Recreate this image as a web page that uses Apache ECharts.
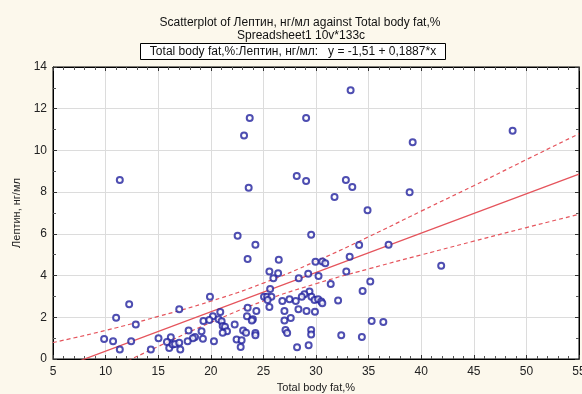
<!DOCTYPE html>
<html>
<head>
<meta charset="utf-8">
<script src="https://cdn.jsdelivr.net/npm/echarts@6/dist/echarts.min.js"></script>
<style>
html,body{margin:0;padding:0;background:#fcf8ec;}
#chart{width:582px;height:394px;}
</style>
</head>
<body>
<div id="chart"></div>
<script>
// Data
var fatX = [
  11.35, 23.70, 29.06, 23.16, 23.60, 28.17, 29.06, 32.84, 33.45, 31.76,
  34.90, 22.55, 29.54, 33.29, 48.69, 38.90, 39.19, 24.24, 34.10, 36.90,
  23.50, 26.46, 25.57, 26.40, 25.95, 25.64, 33.20, 29.95, 30.60, 30.88,
  29.26, 28.36, 30.24, 32.88, 31.40, 35.16, 34.43, 29.38, 28.90, 41.90,
  19.92, 12.24, 25.06, 25.35, 25.76, 28.65, 29.57, 25.40, 25.57, 26.80,
  27.48, 28.08, 28.33, 27.00, 29.86, 30.20, 30.50, 30.60, 32.10, 29.10,
  29.90, 17.00, 20.90, 20.20, 23.50, 23.44, 24.33, 11.00, 27.60, 27.00,
  19.30, 19.86, 20.74, 21.03, 22.27, 21.13, 21.35, 24.00, 23.90, 12.87,
  35.29, 36.40, 21.54, 21.13, 17.89, 19.12, 23.07, 23.35, 27.10, 27.26,
  24.24, 24.24, 29.54, 29.54, 32.40, 34.36, 18.50, 18.30, 15.03, 16.20,
  19.25, 20.30, 17.80, 22.45, 22.93, 22.84, 28.20, 29.30, 9.86, 10.71,
  11.35, 12.43, 14.30, 15.83, 16.05, 16.37, 16.60, 17.00, 17.10
];
var leptinY = [
  8.58, 11.55, 11.55, 10.71, 8.21, 8.77, 8.53, 8.58, 8.25, 7.77,
  7.13, 5.91, 5.96, 12.88, 10.94, 8.00, 10.39, 5.48, 5.46, 5.48,
  4.79, 4.76, 4.19, 4.11, 3.87, 3.36, 4.90, 4.66, 4.68, 4.59,
  4.09, 3.87, 3.98, 4.19, 3.60, 3.71, 3.26, 3.24, 3.10, 4.47,
  2.99, 2.62, 2.99, 2.99, 2.99, 2.99, 2.99, 2.83, 2.49, 2.78,
  2.86, 2.78, 2.38, 2.30, 2.83, 2.86, 2.76, 2.67, 2.81, 2.30,
  2.27, 2.38, 2.25, 2.05, 2.46, 2.05, 2.30, 1.98, 1.97, 1.84,
  1.82, 1.87, 1.90, 1.81, 1.65, 1.58, 1.55, 1.90, 1.84, 1.66,
  1.82, 1.77, 1.33, 1.26, 1.37, 1.33, 1.37, 1.26, 1.39, 1.25,
  1.25, 1.14, 1.39, 1.17, 1.14, 1.05, 1.05, 1.00, 1.00, 1.04,
  0.97, 0.85, 0.85, 0.93, 0.90, 0.58, 0.56, 0.66, 0.96, 0.85,
  0.45, 0.85, 0.45, 0.81, 0.53, 0.69, 0.72, 0.78, 0.45
];
// Regression coefficients (from the header text)
var intercept = -1.51;
var slope = 0.1887;
// 95% confidence band
var bandX     = [5, 10, 15, 20, 25, 30, 35, 40, 45, 50, 55];
var bandUpper = [0.79, 1.37, 2.04, 2.77, 3.64, 4.69, 5.86, 7.09, 8.31, 9.56, 10.80];
var bandLower = [-1.92, -0.61, 0.60, 1.75, 2.78, 3.61, 4.32, 4.99, 5.65, 6.30, 6.94];
// Axis settings
var xTicks = {min: 5, max: 55, step: 5};
var yTicks = {min: 0, max: 14, step: 2};
var titleLines = ['Scatterplot of Лептин, нг/мл against Total body fat,%', 'Spreadsheet1 10v*133c'];
var eqText = 'Total body fat,%:Лептин, нг/мл:   y = -1,51 + 0,1887*x';
var xName = 'Total body fat,%';
var yName = 'Лептин, нг/мл';

var FONT = '"Liberation Sans", Arial, sans-serif';
var pts = fatX.map(function(x, i){ return [x, leptinY[i]]; });
var regLine = [xTicks.min, xTicks.max].map(function(x){ return [x, intercept + slope * x]; });
var up = bandX.map(function(x, i){ return [x, bandUpper[i]]; });
var lo = bandX.map(function(x, i){ return [x, bandLower[i]]; });

var RED = '#e5545c';
var BLUE = '#22229e';

function axisCommon(extra){
  var a = {
    axisLine: {show: true, onZero: false, lineStyle: {color: '#000', width: 1}},
    axisTick: {show: true, inside: true, length: 4, lineStyle: {color: '#333'}},
    minorTick: {show: true, length: 3, lineStyle: {color: '#555'}},
    splitLine: {show: false},
    minorSplitLine: {show: false}
  };
  for (var k in extra) a[k] = extra[k];
  return a;
}

var chart = echarts.init(document.getElementById('chart'));
chart.setOption({
  backgroundColor: '#fcf8ec',
  animation: false,
  grid: {left: 53, right: 3, top: 67, bottom: 35, show: true, backgroundColor: '#ffffff',
         borderColor: '#000', borderWidth: 1, containLabel: false, outerBoundsMode: 'none'},
  graphic: [
    {type: 'text', x: 300, y: 22.5, style: {text: titleLines[0], font: '12px ' + FONT, fill: '#111', textAlign: 'center', textVerticalAlign: 'middle'}},
    {type: 'text', x: 301, y: 36, style: {text: titleLines[1], font: '12px ' + FONT, fill: '#111', textAlign: 'center', textVerticalAlign: 'middle'}},
    {type: 'rect', shape: {x: 140.5, y: 43.5, width: 305, height: 16}, style: {fill: '#ffffff', stroke: '#000', lineWidth: 1}},
    {type: 'text', x: 293, y: 51.5, style: {text: eqText, font: '12px ' + FONT, fill: '#111', textAlign: 'center', textVerticalAlign: 'middle'}}
  ],
  xAxis: [
    axisCommon({
      type: 'value', min: xTicks.min, max: xTicks.max, interval: xTicks.step,
      minorTick: {show: true, splitNumber: 5, length: 3, lineStyle: {color: '#555'}},
      splitLine: {show: true, lineStyle: {color: '#dcdcdc', width: 1}},
      axisLabel: {color: '#222', fontSize: 12, fontFamily: FONT, margin: 7},
      name: xName, nameLocation: 'middle', nameGap: 23,
      nameTextStyle: {color: '#222', fontSize: 11, fontFamily: FONT}
    }),
    axisCommon({
      type: 'value', position: 'top', min: xTicks.min, max: xTicks.max, interval: xTicks.step,
      minorTick: {show: true, splitNumber: 5, length: 3, lineStyle: {color: '#555'}},
      axisLabel: {show: false}
    })
  ],
  yAxis: [
    axisCommon({
      type: 'value', min: yTicks.min, max: yTicks.max, interval: yTicks.step,
      minorTick: {show: true, splitNumber: 2, length: 3, lineStyle: {color: '#555'}},
      splitLine: {show: true, lineStyle: {color: '#dcdcdc', width: 1}},
      axisLabel: {color: '#222', fontSize: 12, fontFamily: FONT, margin: 6},
      name: yName, nameLocation: 'middle', nameGap: 27,
      nameTextStyle: {color: '#222', fontSize: 11, fontFamily: FONT}
    }),
    axisCommon({
      type: 'value', position: 'right', min: yTicks.min, max: yTicks.max, interval: yTicks.step,
      minorTick: {show: true, splitNumber: 2, length: 3, lineStyle: {color: '#555'}},
      axisLabel: {show: false}
    })
  ],
  series: [
    {type: 'line', data: up, smooth: true, symbol: 'none', clip: true,
     lineStyle: {color: RED, width: 1.2, type: [4, 3]}, z: 3},
    {type: 'line', data: lo, smooth: true, symbol: 'none', clip: true,
     lineStyle: {color: RED, width: 1.2, type: [4, 3]}, z: 3},
    {type: 'line', data: regLine, symbol: 'none', clip: true,
     lineStyle: {color: RED, width: 1.3}, z: 3},
    {type: 'scatter', data: pts, symbol: 'emptyCircle', symbolSize: 6,
     itemStyle: {color: BLUE, borderColor: BLUE, borderWidth: 1.4}, z: 4}
  ]
});
</script>
</body>
</html>
